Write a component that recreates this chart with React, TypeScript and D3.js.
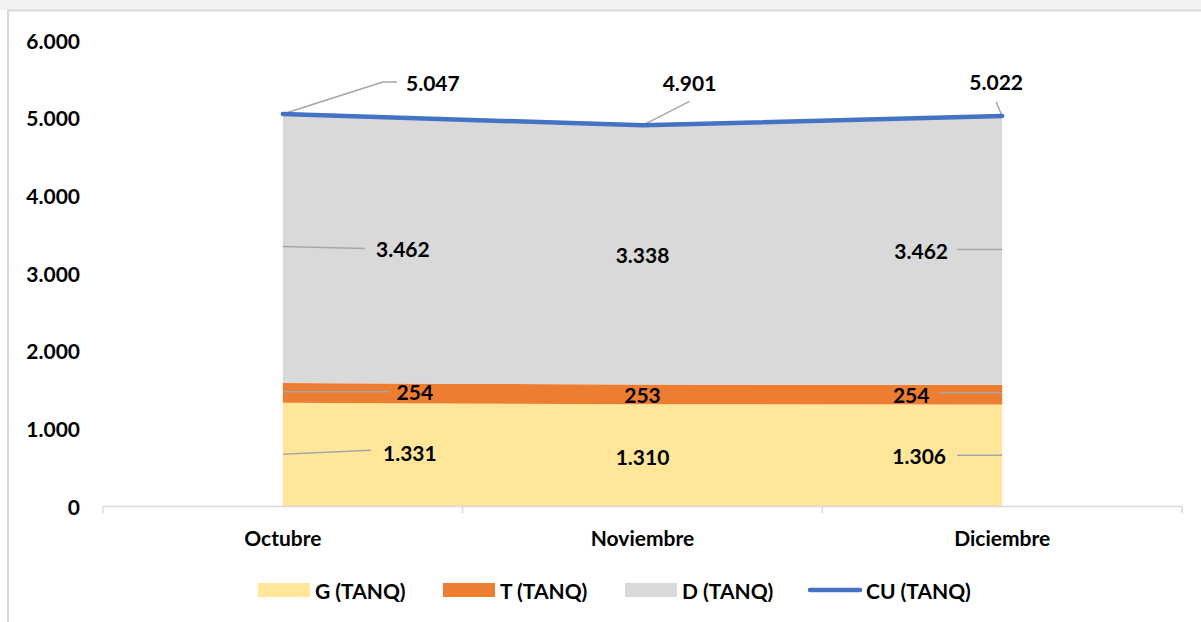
import React from "react";
import * as d3 from "d3";

const categories = ["Octubre", "Noviembre", "Diciembre"];
const gValues = [1331, 1310, 1306];
const tValues = [254, 253, 254];
const dValues = [3462, 3338, 3462];
const cuValues = [5047, 4901, 5022];
const yTicks = [0, 1000, 2000, 3000, 4000, 5000, 6000];
const seriesNames = ["G (TANQ)", "T (TANQ)", "D (TANQ)", "CU (TANQ)"];

const W = 1201, H = 622;
const FONT = "Lato, 'Open Sans', sans-serif";
const colors = ["#FFE699", "#ED7D31", "#D9D9D9", "#4472C4"];
const fmt = (v: number) => d3.format(",")(v).replace(/,/g, ".");

export default function App() {
  const x = d3.scalePoint<string>().domain(categories).range([103, 1182]).padding(0.5);
  const y = d3.scaleLinear().domain([0, 6000]).range([506, 40]);

  const rows = categories.map((c, i) => ({ c, g: gValues[i], t: tValues[i], d: dValues[i] }));
  const stack = d3.stack<any>().keys(["g", "t", "d"]);
  const layers = stack(rows);
  const area = d3.area<any>()
    .x((p: any) => x(p.data.c) as number)
    .y0((p: any) => y(p[0]))
    .y1((p: any) => y(p[1]));
  const line = d3.line<number>()
    .x((_, i) => x(categories[i]) as number)
    .y((v) => y(v));

  const boundaries = categories.map((_, i) => i).concat([categories.length]);
  const step = x.step();

  const labelText = (txt: string, lx: number, ly: number, key: string) => (
    <text key={key} x={lx} y={ly} textAnchor="middle" dominantBaseline="central"
      fontFamily={FONT} fontWeight="bold" fontSize={21} fill="#000">{txt}</text>
  );

  const labels: React.ReactNode[] = [];
  const leaders: React.ReactNode[] = [];
  const lead = (pts: [number, number][], key: string) => (
    <polyline key={key} points={pts.map((p) => p.join(",")).join(" ")} fill="none" stroke="#A6A6A6" strokeWidth={1.5} />
  );

  const gMid = (i: number) => y(gValues[i] / 2);
  const tMid = (i: number) => y(gValues[i] + tValues[i] / 2);
  const dMid = (i: number) => y(gValues[i] + tValues[i] + dValues[i] / 2);
  const px = (i: number) => x(categories[i]) as number;

  // Octubre
  labels.push(labelText(fmt(gValues[0]), px(0) + 127, gMid(0) - 2, "g0"));
  leaders.push(lead([[px(0), gMid(0)], [px(0) + 88, gMid(0) - 4]], "lg0"));
  labels.push(labelText(fmt(tValues[0]), px(0) + 132, tMid(0) - 1, "t0"));
  leaders.push(lead([[px(0), tMid(0) - 1], [px(0) + 107, tMid(0) - 1]], "lt0"));
  labels.push(labelText(fmt(dValues[0]), px(0) + 120, dMid(0), "d0"));
  leaders.push(lead([[px(0), dMid(0) - 2], [px(0) + 82, dMid(0)]], "ld0"));
  labels.push(labelText(fmt(cuValues[0]), px(0) + 150, y(cuValues[0]) - 32, "c0"));
  leaders.push(lead([[px(0), y(cuValues[0])], [px(0) + 100, y(cuValues[0]) - 32], [px(0) + 114, y(cuValues[0]) - 32]], "lc0"));

  // Noviembre
  labels.push(labelText(fmt(gValues[1]), px(1), gMid(1) + 1, "g1"));
  labels.push(labelText(fmt(tValues[1]), px(1), tMid(1), "t1"));
  labels.push(labelText(fmt(dValues[1]), px(1), dMid(1), "d1"));
  labels.push(labelText(fmt(cuValues[1]), px(1) + 47, y(cuValues[1]) - 43, "c1"));
  leaders.push(lead([[px(1), y(cuValues[1])], [px(1) + 47, y(cuValues[1]) - 24]], "lc1"));

  // Diciembre
  labels.push(labelText(fmt(gValues[2]), px(2) - 83, gMid(2), "g2"));
  leaders.push(lead([[px(2) - 45, gMid(2)], [px(2), gMid(2)]], "lg2"));
  labels.push(labelText(fmt(tValues[2]), px(2) - 91, tMid(2), "t2"));
  leaders.push(lead([[px(2) - 63, tMid(2) - 2], [px(2), tMid(2) - 2]], "lt2"));
  labels.push(labelText(fmt(dValues[2]), px(2) - 81, dMid(2), "d2"));
  leaders.push(lead([[px(2) - 45, dMid(2) - 1], [px(2), dMid(2) - 1]], "ld2"));
  labels.push(labelText(fmt(cuValues[2]), px(2) - 6, y(cuValues[2]) - 34, "c2"));
  leaders.push(lead([[px(2), y(cuValues[2])], [px(2) - 6, y(cuValues[2]) - 14]], "lc2"));

  const legendItems = [
    { name: seriesNames[0], sx: 258, tx: 315, type: "rect", color: colors[0] },
    { name: seriesNames[1], sx: 443, tx: 500, type: "rect", color: colors[1] },
    { name: seriesNames[2], sx: 625, tx: 682, type: "rect", color: colors[2] },
    { name: seriesNames[3], sx: 808, tx: 866, type: "line", color: colors[3] },
  ];

  return (
    <div style={{ position: "absolute", left: 0, top: 0 }}>
      <svg width={W} height={H} style={{ display: "block" }}>
        <rect x={0} y={0} width={W} height={H} fill="#ffffff" />
        <rect x={0} y={0} width={W} height={10} fill="#f2f2f2" />
        <line x1={8} y1={10.5} x2={W} y2={10.5} stroke="#d9d9d9" strokeWidth={2} />
        <line x1={8} y1={10} x2={8} y2={H} stroke="#d9d9d9" strokeWidth={2} />

        {yTicks.map((t) => (
          <text key={t} x={80} y={y(t)} textAnchor="end" dominantBaseline="central"
            fontFamily={FONT} fontWeight="bold" fontSize={21} fill="#000">{fmt(t)}</text>
        ))}

        {layers.map((l, i) => (
          <path key={i} d={area(l as any) || ""} fill={colors[i]} />
        ))}

        <line x1={103} y1={506.5} x2={1182} y2={506.5} stroke="#d9d9d9" strokeWidth={1.5} />
        {boundaries.map((b) => {
          const bx = 103 + b * step;
          return <line key={b} x1={bx} y1={506} x2={bx} y2={513} stroke="#d9d9d9" strokeWidth={1.5} />;
        })}
        {categories.map((c) => (
          <text key={c} x={x(c)} y={537} textAnchor="middle" dominantBaseline="central"
            fontFamily={FONT} fontWeight="bold" fontSize={21} fill="#000">{c}</text>
        ))}

        {leaders}
        <path d={line(cuValues) || ""} fill="none" stroke={colors[3]} strokeWidth={4.5} strokeLinecap="round" strokeLinejoin="round" />
        {labels}

        {legendItems.map((it) => (
          <g key={it.name}>
            {it.type === "rect" ? (
              <rect x={it.sx} y={583} width={52} height={14} fill={it.color} />
            ) : (
              <line x1={it.sx + 2} y1={590} x2={it.sx + 52} y2={590} stroke={it.color} strokeWidth={4.5} strokeLinecap="round" />
            )}
            <text x={it.tx} y={590} dominantBaseline="central" fontFamily={FONT} fontWeight="bold" fontSize={21} fill="#000">{it.name}</text>
          </g>
        ))}
      </svg>
    </div>
  );
}
